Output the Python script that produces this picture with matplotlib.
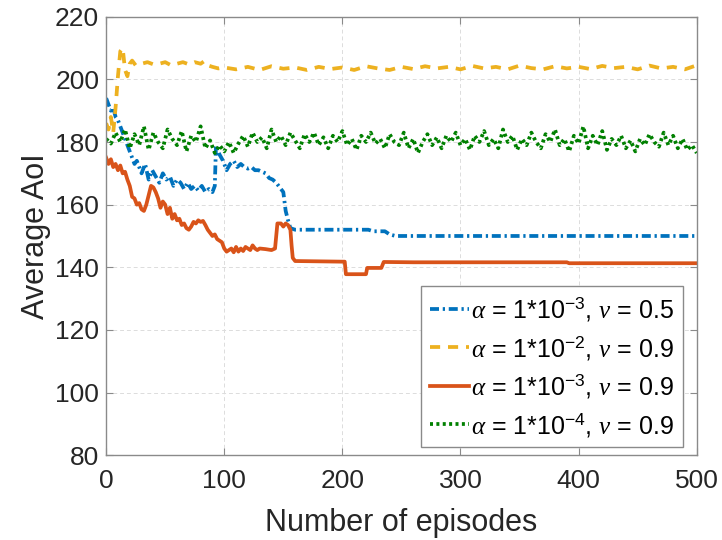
import numpy as np
import matplotlib
matplotlib.use('Agg')
import matplotlib.pyplot as plt

plt.rcParams['font.family'] = ['Liberation Sans', 'DejaVu Sans']
plt.rcParams['mathtext.fontset'] = 'custom'
plt.rcParams['mathtext.rm'] = 'Liberation Sans'
plt.rcParams['mathtext.it'] = 'Liberation Serif:italic'
plt.rcParams['mathtext.bf'] = 'Liberation Sans:bold'

# alpha = 1e-3, nu = 0.5 (blue, dash-dot)
blue_x = [0, 2, 4, 6, 8, 10, 12, 14, 16, 18, 20, 22, 24, 26, 28, 30, 33, 36, 39, 42,
          45, 48, 51, 54, 57, 60, 63, 66, 69, 72, 75, 78, 81, 84, 87, 90, 92, 93, 96, 99,
          102, 105, 108, 111, 114, 117, 120, 123, 126, 129, 132, 135, 138, 141, 144, 147,
          150, 152, 154, 156, 160, 200, 222, 226, 236, 240, 245, 300, 400, 500]
blue_y = [194, 192, 190, 191, 188, 187, 185, 183, 181, 179, 177, 175, 173, 174, 172, 170, 173, 168, 171, 169,
          167, 170, 168, 169, 166, 168, 167, 165, 167, 165, 166, 164.5, 166, 164, 165, 164, 166, 179, 176, 174,
          171, 173, 174, 172, 173, 172, 171.5, 172, 171, 171, 170.5, 170, 168.5, 168, 167, 165.5,
          164, 158, 155, 152.5, 152, 152, 152, 151.5, 151.5, 150.5, 150, 150, 150, 150]

# alpha = 1e-2, nu = 0.9 (yellow, dashed)
yel_x = [0, 2, 4, 6, 8, 10, 12, 14, 16, 18, 20, 22, 25, 30, 35, 40, 45, 50, 55, 60,
         65, 70, 75, 80, 83, 86, 90, 95, 100, 110, 120, 130, 140, 150, 160, 170, 180, 190,
         200, 210, 220, 230, 240, 250, 260, 270, 280, 290, 300, 310, 320, 330, 340, 350,
         360, 370, 380, 390, 400, 410, 420, 430, 440, 450, 460, 470, 480, 490, 500]
yel_y = [186, 184, 188, 183, 191, 201, 209, 210, 203, 201, 205, 206, 204.5, 205, 205.5, 204.8, 205, 205.5, 204.5, 205,
         205.5, 204.8, 205.5, 205, 205.8, 204.5, 204, 203.5, 203.8, 203.2, 204, 203, 204.2, 203.4, 203.8, 203, 204, 203.3,
         203.8, 203, 204.2, 203.5, 203, 204, 203.3, 204.2, 203.5, 204, 203.2, 204.3, 203.5, 204, 203.2, 204.4,
         203.6, 203.2, 204.2, 203.5, 204, 203.3, 204.3, 203.6, 204, 203.2, 204.4, 203.5, 204, 203.2, 204.5]

# alpha = 1e-3, nu = 0.9 (red, solid)
red_x = [0, 2, 4, 6, 8, 10, 12, 14, 16, 18, 20, 22, 24, 26, 28, 30, 32, 34, 36, 38,
         40, 42, 44, 46, 48, 50, 52, 54, 56, 58, 60, 62, 64, 66, 68, 70, 72, 74, 76, 78,
         80, 82, 84, 86, 88, 90, 92, 94, 96, 98, 100, 102, 104, 106, 108, 110, 112, 114,
         116, 118, 120, 122, 124, 126, 128, 130, 135, 140, 143, 144, 145, 148, 150, 152,
         154, 156, 157, 158, 160, 200, 202, 203, 220, 221, 233, 235, 260, 390, 392, 500]
red_y = [175, 173, 174.5, 172, 173, 171, 172.5, 170, 170.5, 168, 166, 162.5, 162, 160, 160.5, 158.5, 158, 160, 163, 166,
         165.5, 164, 162, 159, 161, 160, 157, 159, 155.5, 157, 155, 155.5, 153.5, 154, 152.5, 152, 153, 154.5, 154, 155,
         154.5, 154.8, 153.5, 152, 151, 150, 150.5, 149, 148.5, 148, 146, 145, 145.5, 146, 144.8, 146.5, 145, 146,
         145.2, 146.5, 146, 145.5, 147, 146, 145.5, 146, 145.8, 145.5, 146, 150, 154, 154, 153, 154,
         153.5, 152, 147, 143, 142, 141.8, 141.8, 137.8, 137.8, 139.8, 139.8, 141.7, 141.6, 141.6, 141.3, 141.3]

# alpha = 1e-4, nu = 0.9 (green, dotted), every 4 episodes
green_x = list(range(0, 501, 4))
green_y = [181, 179.5, 183, 180, 184, 178, 182.5, 179, 185, 177.5, 183, 180, 178, 184, 181, 179,
           183.5, 177, 182, 180, 185, 178, 180.5, 176.5, 179, 177, 180, 176.5, 179.5, 182, 178.5, 183,
           180, 181.5, 178, 184, 180, 182, 179, 183, 180.5, 178, 182.5, 180, 183, 179, 181.5, 178,
           182, 180, 183.5, 179, 181, 177.5, 182, 180, 183, 179.5, 181, 178, 182.5, 180, 179, 183,
           178, 181, 176.5, 180, 182.5, 179, 181.5, 178, 182, 180, 183, 179, 181, 177.5, 182, 180,
           183.5, 179, 181, 178, 184, 180, 182, 177.5, 181, 179, 183, 180, 178, 182.5, 180, 184,
           179, 181, 177, 182, 179.5, 185, 178, 182, 179, 183.5, 177.5, 181, 179, 182, 178, 180.5,
           177, 181, 179, 182.5, 180, 178.5, 183, 179, 182, 178, 181, 177.5, 179, 176.5]

labels = [r'$\alpha$ = 1*10$^{-3}$, $\nu$ = 0.5',
          r'$\alpha$ = 1*10$^{-2}$, $\nu$ = 0.9',
          r'$\alpha$ = 1*10$^{-3}$, $\nu$ = 0.9',
          r'$\alpha$ = 1*10$^{-4}$, $\nu$ = 0.9']

fig = plt.figure(figsize=(7.22, 5.40), dpi=100)
ax = fig.add_axes([0.147, 0.157, 0.818, 0.812])

lw = 2.7
ax.plot(blue_x, blue_y, color='#0072BD', lw=lw, dashes=(2.4, 1.0, 0.6, 1.0), label=labels[0])
ax.plot(yel_x, yel_y, color='#EDB120', lw=lw, dashes=(2.7, 2.1), label=labels[1])
ax.plot(red_x, red_y, color='#D95319', lw=lw, ls='-', label=labels[2])
ax.plot(green_x, green_y, color='#008000', lw=lw, dashes=(0.8, 0.9), label=labels[3])

ax.set_xlim(0, 500)
ax.set_ylim(80, 220)
ax.set_xticks(np.arange(0, 501, 100))
ax.set_yticks(np.arange(80, 221, 20))
ax.grid(True, color='#dcdcdc', ls=(0, (4, 3)), lw=0.7)
ax.set_axisbelow(True)
for s in ax.spines.values():
    s.set_color('#8a8a8a')
    s.set_linewidth(1.0)
ax.tick_params(direction='in', length=5, width=0.8, color='#8a8a8a',
               top=True, right=True, labelsize=19, labelcolor='#262626')
ax.tick_params(axis='x', pad=10)
ax.tick_params(axis='y', pad=5)
ax.set_xlabel('Number of episodes', fontsize=22, color='#262626', labelpad=11)
ax.set_ylabel('Average AoI', fontsize=22, color='#262626', labelpad=3)

leg = ax.legend(loc='lower right', bbox_to_anchor=(0.977, 0.018), borderaxespad=0,
                fontsize=18, handlelength=1.55, handletextpad=0.1, labelspacing=0.42,
                borderpad=0.35, fancybox=False, framealpha=1, edgecolor='#8a8a8a')
leg.get_frame().set_linewidth(1.0)

plt.savefig('out.png', dpi=100)
